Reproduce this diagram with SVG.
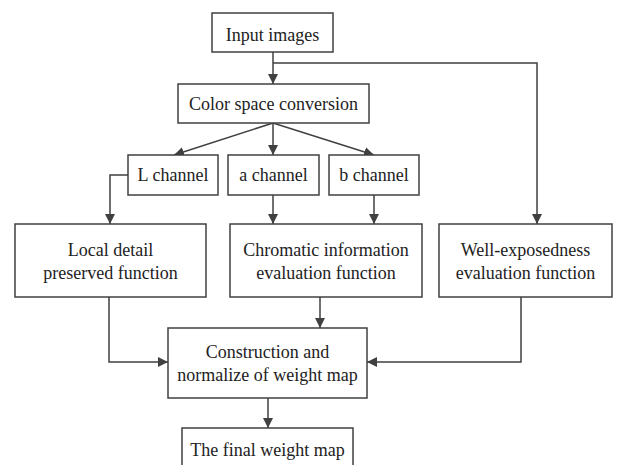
<svg xmlns="http://www.w3.org/2000/svg" width="630" height="465" viewBox="0 0 630 465">
  <style>
    .box { fill: #ffffff; stroke: #404040; stroke-width: 1.5; }
    .lbl { font-family: 'Liberation Serif', 'DejaVu Serif', 'Times New Roman', serif; font-size: 18px; fill: #222222; text-anchor: middle; }
    .link { fill: none; stroke: #404040; stroke-width: 1.5; }
  </style>
  <defs>
    <marker id="arrow" viewBox="0 0 10 10" refX="10" refY="5" markerWidth="10" markerHeight="10" markerUnits="userSpaceOnUse" orient="auto">
      <path d="M0,0 L10,5 L0,10 Z" fill="#404040"/>
    </marker>
  </defs>
  <rect width="630" height="465" fill="#ffffff"/>

  <g id="connectors">
    <path class="link" d="M273,52 V84" marker-end="url(#arrow)"/>
    <path class="link" d="M273,63 H537 V224" marker-end="url(#arrow)"/>
    <path class="link" d="M273,123 L174,155" marker-end="url(#arrow)"/>
    <path class="link" d="M273,123 V155" marker-end="url(#arrow)"/>
    <path class="link" d="M273,123 L374,155" marker-end="url(#arrow)"/>
    <path class="link" d="M128,175 H110 V224" marker-end="url(#arrow)"/>
    <path class="link" d="M273,195 V224" marker-end="url(#arrow)"/>
    <path class="link" d="M374,195 V224" marker-end="url(#arrow)"/>
    <path class="link" d="M109,297 V362 H168" marker-end="url(#arrow)"/>
    <path class="link" d="M320,297 V328" marker-end="url(#arrow)"/>
    <path class="link" d="M521,297 V362 H367" marker-end="url(#arrow)"/>
    <path class="link" d="M268,398 V428" marker-end="url(#arrow)"/>
  </g>

  <g id="input-images">
    <rect class="box" x="212" y="13" width="121" height="39"/>
    <text class="lbl" x="272.5" y="41">Input images</text>
  </g>
  <g id="color-space-conversion">
    <rect class="box" x="178" y="84" width="191" height="39"/>
    <text class="lbl" x="273.5" y="110">Color space conversion</text>
  </g>
  <g id="l-channel">
    <rect class="box" x="128" y="155" width="90" height="40"/>
    <text class="lbl" x="173" y="181">L channel</text>
  </g>
  <g id="a-channel">
    <rect class="box" x="228" y="155" width="91" height="40"/>
    <text class="lbl" x="273.5" y="181">a channel</text>
  </g>
  <g id="b-channel">
    <rect class="box" x="329" y="155" width="90" height="40"/>
    <text class="lbl" x="374" y="181">b channel</text>
  </g>
  <g id="local-detail">
    <rect class="box" x="15" y="224" width="191" height="73"/>
    <text class="lbl" x="110.5" y="256">Local detail</text>
    <text class="lbl" x="110.5" y="279">preserved function</text>
  </g>
  <g id="chromatic-information">
    <rect class="box" x="230" y="224" width="192" height="73"/>
    <text class="lbl" x="326" y="256">Chromatic information</text>
    <text class="lbl" x="326" y="279">evaluation function</text>
  </g>
  <g id="well-exposedness">
    <rect class="box" x="439" y="224" width="173" height="73"/>
    <text class="lbl" x="525.5" y="256">Well-exposedness</text>
    <text class="lbl" x="525.5" y="279">evaluation function</text>
  </g>
  <g id="construction">
    <rect class="box" x="168" y="328" width="199" height="70"/>
    <text class="lbl" x="267.5" y="358">Construction and</text>
    <text class="lbl" x="267.5" y="381">normalize of weight map</text>
  </g>
  <g id="final-weight-map">
    <rect class="box" x="182" y="428" width="171" height="45"/>
    <text class="lbl" x="267.5" y="456">The final weight map</text>
  </g>
</svg>
